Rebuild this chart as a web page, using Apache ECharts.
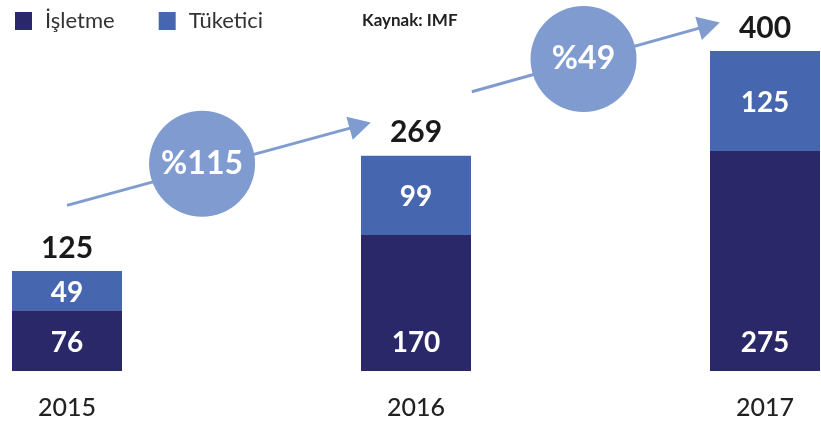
<!DOCTYPE html>
<html>
<head>
    <meta charset="utf-8">
    <title>İşletme / Tüketici</title>
    <script src="https://cdn.jsdelivr.net/npm/echarts@6/dist/echarts.min.js"></script>
    <style>
        html, body { margin: 0; padding: 0; background: #fff; }
    </style>
</head>
<body>
<div id="main" style="width: 821px;height:425px;"></div>
<script type="text/javascript">
    // veriler
    var years = ['2015', '2016', '2017'];
    var isletme = [76, 170, 275];
    var tuketici = [49, 99, 125];
    var toplam = [125, 269, 400];
    // büyüme okları (x: yıl indeksi, y: değer ölçeği)
    var oklar = [
        [[0, 207], [0.84, 307]],
        [[1.16, 349], [1.84, 432]]
    ];
    var balonlar = [
        [0.387, 259, '%115'],
        [1.48, 390, '%49']
    ];

    var myChart = echarts.init(document.getElementById('main'));
    var font = 'Lato';

    var option = {
        backgroundColor: '#fff',
        animation: false,
        textStyle: {fontFamily: font},
        title: {
            text: 'Kaynak: IMF',
            left: 357,
            top: 7,
            textStyle: {fontSize: 17, fontWeight: 'bold', color: '#222', fontFamily: font}
        },
        legend: {
            left: 10,
            top: 5,
            itemWidth: 17,
            itemHeight: 18,
            itemGap: 44,
            icon: 'rect',
            data: ['İşletme', 'Tüketici'],
            textStyle: {fontSize: 22, color: '#333', padding: [0, 0, 0, 8]}
        },
        grid: [
            {left: 67, right: 56, top: 51, bottom: 54},
            // oklar ve balonlar için aynı ölçekte, üstte biraz daha yer
            {left: 67, right: 56, top: 11, bottom: 54}
        ],
        xAxis: [{
            type: 'category',
            data: years,
            boundaryGap: false,
            axisLine: {show: false},
            axisTick: {show: false},
            axisLabel: {margin: 24, fontSize: 25, color: '#222', fontWeight: 500}
        }, {
            type: 'value',
            gridIndex: 1,
            min: 0,
            max: 2,
            show: false
        }],
        yAxis: [{
            type: 'value',
            min: 0,
            max: 400,
            show: false,
            splitLine: {show: false}
        }, {
            type: 'value',
            gridIndex: 1,
            min: 0,
            max: 450,
            show: false,
            splitLine: {show: false}
        }],
        series: [
            {
                name: 'İşletme',
                type: 'bar',
                stack: 'toplam',
                barWidth: 110,
                itemStyle: {color: '#2a2868'},
                label: {
                    show: true,
                    position: 'insideBottom',
                    distance: 14,
                    color: '#fff',
                    fontSize: 28,
                    fontWeight: 'bold'
                },
                data: isletme
            },
            {
                name: 'Tüketici',
                type: 'bar',
                stack: 'toplam',
                barWidth: 110,
                itemStyle: {color: '#4667b0'},
                label: {
                    show: true,
                    position: 'inside',
                    offset: [0, 2],
                    color: '#fff',
                    fontSize: 28,
                    fontWeight: 'bold'
                },
                data: tuketici
            },
            {
                // toplam etiketleri
                name: 'Toplam',
                type: 'bar',
                stack: 'toplam',
                barWidth: 110,
                itemStyle: {color: 'transparent'},
                label: {
                    show: true,
                    position: 'top',
                    distance: 8,
                    color: '#1a1a1a',
                    fontSize: 30,
                    fontWeight: 'bold',
                    formatter: function (p) { return toplam[p.dataIndex]; }
                },
                data: [0, 0, 0]
            },
            {
                name: 'ok',
                type: 'line',
                xAxisIndex: 1,
                yAxisIndex: 1,
                data: [],
                clip: false,
                silent: true,
                markLine: {
                    silent: true,
                    symbol: ['none', 'triangle'],
                    symbolSize: [24, 22],
                    label: {show: false},
                    lineStyle: {color: '#7f9bd0', width: 3, type: 'solid'},
                    data: oklar.map(function (o) {
                        return [{coord: o[0]}, {coord: o[1]}];
                    })
                }
            },
            {
                name: 'balon',
                type: 'scatter',
                xAxisIndex: 1,
                yAxisIndex: 1,
                clip: false,
                silent: true,
                z: 5,
                symbolSize: 106,
                itemStyle: {color: '#7f9bd0', opacity: 1},
                label: {
                    show: true,
                    position: 'inside',
                    color: '#fff',
                    fontSize: 32,
                    fontWeight: 'bold',
                    formatter: function (p) { return p.data[2]; }
                },
                data: balonlar
            }
        ]
    };

    myChart.setOption(option);
</script>
</body>
</html>
